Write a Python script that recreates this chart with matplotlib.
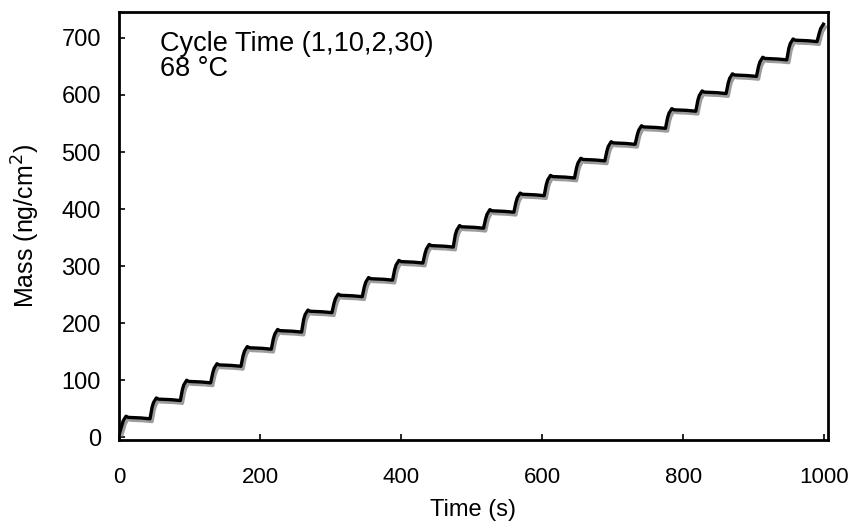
import numpy as np
import matplotlib
matplotlib.use('Agg')
import matplotlib.pyplot as plt
import matplotlib.patheffects as pe

plt.rcParams['font.family'] = ['Liberation Sans', 'DejaVu Sans']

# ALD cycle: pulse A 1 s, purge 10 s, pulse B 2 s, purge 30 s -> 43 s
cycle_period = 43.0
mass_start = 8.0
# plateau mass after each cycle (ng/cm^2)
step_levels = [35, 67, 98, 127, 157, 187, 221, 249, 278, 308, 336, 369,
               397, 426, 457, 487, 516, 544, 574, 605, 635, 664, 696, 722]
# shape of one cycle: time offsets (s) and mass offsets relative to the new plateau
# (None = mass rises from the previous plateau)
profile_t = [0.0, 3.0, 5.0, 9.0, 12.0, 30.0, 42.9]
profile_dm = [None, -14.0, -6.0, 2.0, 0.0, -1.0, -2.5]

t_vals, m_vals = [0.0], [mass_start]
for k, lvl in enumerate(step_levels):
    t0 = 1.0 + k * cycle_period
    for dt, dm in zip(profile_t, profile_dm):
        t = t0 + dt
        if t > 1000:
            break
        t_vals.append(t)
        m_vals.append(m_vals[-1] if dm is None else lvl + dm)
t_vals = np.array(t_vals)
m_vals = np.array(m_vals)

fig = plt.figure(figsize=(8.59, 5.31), dpi=100)
ax = fig.add_axes([0.1385, 0.171, 0.825, 0.806])

ax.plot(t_vals, m_vals, color='black', lw=2.4,
        path_effects=[pe.SimpleLineShadow(offset=(1.5, -2.0), shadow_color='0.45',
                                          alpha=0.7), pe.Normal()])

ax.set_xlim(0, 1005)
ax.set_ylim(-5, 745)
ax.set_xticks([0, 200, 400, 600, 800, 1000])
ax.set_yticks(np.arange(0, 701, 100))
ax.tick_params(direction='in', length=4, width=1.2)
ax.tick_params(axis='x', labelsize=16, pad=19)
ax.tick_params(axis='y', labelsize=17, pad=13)
for s in ax.spines.values():
    s.set_linewidth(2.0)

ax.set_xlabel('Time (s)', fontsize=17, labelpad=8)
ax.set_ylabel('Mass (ng/cm$^2$)', fontsize=18, labelpad=14)

ax.text(0.058, 0.955, 'Cycle Time (1,10,2,30)\n68 °C', transform=ax.transAxes,
        fontsize=19.5, va='top', ha='left', linespacing=0.95)

plt.savefig('out.png', dpi=100)
